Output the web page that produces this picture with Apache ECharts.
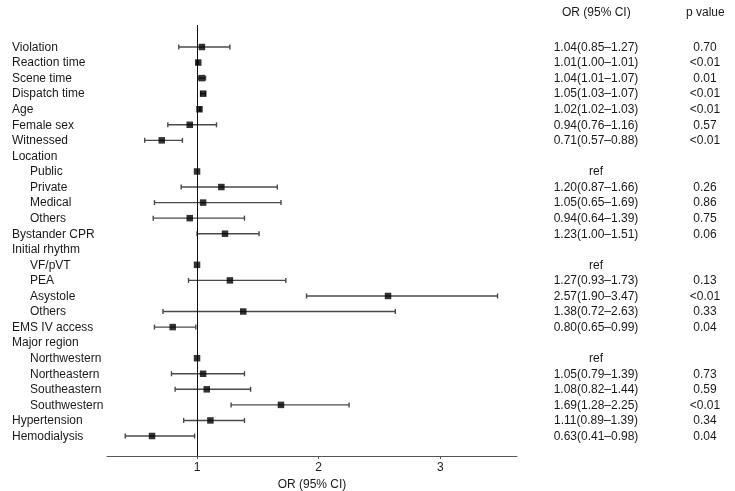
<!DOCTYPE html>
<html>
<head>
<meta charset="utf-8">
<script src="https://cdn.jsdelivr.net/npm/echarts@6/dist/echarts.min.js"></script>
<style>
  html, body { margin: 0; padding: 0; background: #fff; }
  #chart { width: 735px; height: 491px; }
</style>
</head>
<body>
<div id="chart"></div>
<script>
const labels = [
  "Violation", "Reaction time", "Scene time", "Dispatch time", "Age", "Female sex",
  "Witnessed", "Location", "Public", "Private", "Medical", "Others", "Bystander CPR",
  "Initial rhythm", "VF/pVT", "PEA", "Asystole", "Others", "EMS IV access",
  "Major region", "Northwestern", "Northeastern", "Southeastern", "Southwestern",
  "Hypertension", "Hemodialysis",
];
const indented = [
  0, 0, 0, 0, 0, 0, 0, 0, 1, 1, 1, 1, 0,
  0, 1, 1, 1, 1, 0, 0, 1, 1, 1, 1, 0, 0,
];
const orValue = [
  1.04, 1.01, 1.04, 1.05, 1.02, 0.94, 0.71, null, 1, 1.20, 1.05, 0.94, 1.23,
  null, 1, 1.27, 2.57, 1.38, 0.80, null, 1, 1.05, 1.08, 1.69, 1.11, 0.63,
];
const ciLow = [
  0.85, 1.00, 1.01, 1.03, 1.02, 0.76, 0.57, null, null, 0.87, 0.65, 0.64, 1.00,
  null, null, 0.93, 1.90, 0.72, 0.65, null, null, 0.79, 0.82, 1.28, 0.89, 0.41,
];
const ciHigh = [
  1.27, 1.01, 1.07, 1.07, 1.03, 1.16, 0.88, null, null, 1.66, 1.69, 1.39, 1.51,
  null, null, 1.73, 3.47, 2.63, 0.99, null, null, 1.39, 1.44, 2.25, 1.39, 0.98,
];
const orText = [
  "1.04(0.85–1.27)", "1.01(1.00–1.01)", "1.04(1.01–1.07)", "1.05(1.03–1.07)",
  "1.02(1.02–1.03)", "0.94(0.76–1.16)", "0.71(0.57–0.88)", "", "ref",
  "1.20(0.87–1.66)", "1.05(0.65–1.69)", "0.94(0.64–1.39)", "1.23(1.00–1.51)", "",
  "ref", "1.27(0.93–1.73)", "2.57(1.90–3.47)", "1.38(0.72–2.63)", "0.80(0.65–0.99)",
  "", "ref", "1.05(0.79–1.39)", "1.08(0.82–1.44)", "1.69(1.28–2.25)",
  "1.11(0.89–1.39)", "0.63(0.41–0.98)",
];
const pText = [
  "0.70", "<0.01", "0.01", "<0.01", "<0.01", "0.57", "<0.01", "", "", "0.26",
  "0.86", "0.75", "0.06", "", "", "0.13", "<0.01", "0.33", "0.04", "", "", "0.73",
  "0.59", "<0.01", "0.34", "0.04",
];
const xTicks = [1, 2, 3];

const FONT = "Liberation Sans, Arial, sans-serif";
const TEXT = "#1a1a1a";
const rowIdx = labels.map((_, i) => String(i));

// rows sit 15.56px apart; plot area spans y 25..456
const ROW_TOP = 47, ROW_STEP = 15.56, PLOT_TOP = 25, PLOT_BOTTOM = 456;
const yMin = -(ROW_TOP - PLOT_TOP) / ROW_STEP;
const yMax = yMin + (PLOT_BOTTOM - PLOT_TOP) / ROW_STEP;

const ciData = [];
const pointData = [];
labels.forEach((_, i) => {
  if (ciLow[i] != null) ciData.push([ciLow[i], ciHigh[i], i]);
  if (orValue[i] != null) pointData.push([orValue[i], i]);
});

const chart = echarts.init(document.getElementById("chart"));

chart.setOption({
  backgroundColor: "#fff",
  animation: false,
  textStyle: { fontFamily: FONT },
  graphic: [
    { type: "text", left: 562, top: 7, style: { text: "OR (95% CI)", fill: TEXT, font: "12px " + FONT } },
    { type: "text", left: 686, top: 7, style: { text: "p value", fill: TEXT, font: "12px " + FONT } },
  ],
  grid: [
    {
      left: 107, right: 218, top: PLOT_TOP, height: PLOT_BOTTOM - PLOT_TOP,
      outerBoundsMode: "none", containLabel: false,
    },
    {
      left: 107, right: 218, top: ROW_TOP - ROW_STEP / 2 + 0.5, height: ROW_STEP * labels.length,
      outerBoundsMode: "none", containLabel: false,
    },
  ],
  xAxis: [
    {
      gridIndex: 0,
      type: "value",
      min: 0.26,
      max: 3.63,
      splitLine: { show: false },
      axisLine: { onZero: false, lineStyle: { color: "#555", width: 1 } },
      axisTick: { show: true, length: 3, lineStyle: { color: "#555" }, customValues: xTicks },
      axisLabel: { color: TEXT, fontSize: 12, margin: 6, customValues: xTicks },
      name: "OR (95% CI)",
      nameLocation: "middle",
      nameGap: 21,
      nameTextStyle: { color: TEXT, fontSize: 12 },
    },
    { gridIndex: 1, type: "value", show: false },
  ],
  yAxis: [
    {
      gridIndex: 0,
      type: "value",
      inverse: true,
      min: yMin,
      max: yMax,
      show: false,
    },
    {
      gridIndex: 1,
      type: "category",
      inverse: true,
      data: rowIdx,
      position: "left",
      axisLine: { show: false },
      axisTick: { show: false },
      axisLabel: {
        align: "left",
        margin: 95,
        color: TEXT,
        fontSize: 12,
        interval: 0,
        formatter: (v, i) => (indented[i] ? "{sub|" + labels[i] + "}" : labels[i]),
        rich: { sub: { padding: [0, 0, 0, 18], color: TEXT, fontSize: 12 } },
      },
    },
    {
      gridIndex: 1,
      type: "category",
      inverse: true,
      data: rowIdx,
      position: "right",
      axisLine: { show: false },
      axisTick: { show: false },
      axisLabel: {
        align: "center",
        margin: 79,
        color: TEXT,
        fontSize: 12,
        interval: 0,
        formatter: (v, i) => orText[i],
      },
    },
    {
      gridIndex: 1,
      type: "category",
      inverse: true,
      data: rowIdx,
      position: "right",
      axisLine: { show: false },
      axisTick: { show: false },
      axisLabel: {
        align: "center",
        margin: 188,
        color: TEXT,
        fontSize: 12,
        interval: 0,
        formatter: (v, i) => pText[i],
      },
    },
  ],
  series: [
    {
      type: "line",
      xAxisIndex: 0,
      yAxisIndex: 0,
      data: [],
      markLine: {
        silent: true,
        symbol: "none",
        label: { show: false },
        lineStyle: { color: "#111", width: 1, type: "solid" },
        data: [{ xAxis: 1 }],
      },
    },
    {
      type: "custom",
      xAxisIndex: 0,
      yAxisIndex: 0,
      data: ciData,
      renderItem(params, api) {
        const lo = api.coord([api.value(0), api.value(2)]);
        const hi = api.coord([api.value(1), api.value(2)]);
        const style = { stroke: "#4a4a4a", lineWidth: 1.4 };
        return {
          type: "group",
          children: [
            { type: "line", shape: { x1: lo[0], y1: lo[1], x2: hi[0], y2: hi[1] }, style },
            { type: "line", shape: { x1: lo[0], y1: lo[1] - 2.5, x2: lo[0], y2: lo[1] + 2.5 }, style },
            { type: "line", shape: { x1: hi[0], y1: hi[1] - 2.5, x2: hi[0], y2: hi[1] + 2.5 }, style },
          ],
        };
      },
    },
    {
      type: "scatter",
      xAxisIndex: 0,
      yAxisIndex: 0,
      data: pointData,
      symbol: "rect",
      symbolSize: 6.5,
      itemStyle: { color: "#000" },
      z: 5,
    },
  ],
});
</script>
</body>
</html>
